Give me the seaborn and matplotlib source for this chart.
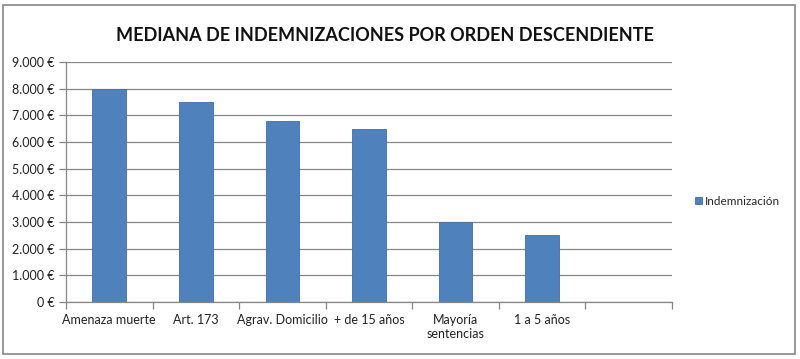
import matplotlib
matplotlib.use("Agg")
import matplotlib.pyplot as plt
import seaborn as sns
import pandas as pd
import numpy as np
from matplotlib.patches import Rectangle
from matplotlib.ticker import FuncFormatter, MultipleLocator

categories = ["Amenaza muerte", "Art. 173", "Agrav. Domicilio", "+ de 15 años",
              "Mayoría\nsentencias", "1 a 5 años"]
values = [8000, 7500, 6800, 6500, 3000, 2500]
series_name = "Indemnización"
title = "MEDIANA DE INDEMNIZACIONES POR ORDEN DESCENDIENTE"

sns.set_theme(style="white")
plt.rcParams["font.family"] = ["Lato", "DejaVu Sans"]

df = pd.DataFrame({"cat": categories, "val": values, "serie": series_name})

fig = plt.figure(figsize=(8, 3.59), dpi=100)
ax = fig.add_axes([0.0825, 0.159, 0.7575, 0.668])

sns.barplot(data=df, x="cat", y="val", hue="serie", order=categories,
            palette=["#4F81BD"], saturation=1, width=0.39, ax=ax,
            edgecolor="#3F6FA8", linewidth=0.6, zorder=3)

ax.set_xlim(-0.5, 6.5)
ax.set_ylim(0, 9000)
ax.yaxis.set_major_locator(MultipleLocator(1000))
ax.yaxis.set_major_formatter(FuncFormatter(lambda v, p: f"{int(v):,} €".replace(",", ".")))
ax.grid(axis="y", color="#868686", linewidth=0.9, zorder=0)
ax.set_axisbelow(True)
ax.set_xlabel("")
ax.set_ylabel("")

for s in ["top", "right"]:
    ax.spines[s].set_visible(False)
for s in ["left", "bottom"]:
    ax.spines[s].set_color("#868686")
    ax.spines[s].set_linewidth(0.9)

ax.tick_params(axis="y", which="major", direction="out", length=5, width=0.9,
               color="#868686", labelsize=9, pad=3, left=True)
ax.tick_params(axis="x", which="major", length=0, labelsize=9, pad=9)
ax.set_xticks(np.arange(-0.5, 7.0, 1.0), minor=True)
ax.tick_params(axis="x", which="minor", direction="out", length=5, width=0.9,
               color="#868686", bottom=True)
for lbl in ax.get_yticklabels() + ax.get_xticklabels():
    lbl.set_color("#222222")

ax.set_title(title, fontsize=13, fontweight="bold", pad=15, x=0.527, color="#111111")

leg = ax.legend(loc="center left", bbox_to_anchor=(1.02, 0.42), frameon=False,
                fontsize=8.5, handlelength=0.6, handleheight=0.6, handletextpad=0.3)

fig.patches.append(Rectangle((0.004, 0.015), 0.99, 0.97, transform=fig.transFigure,
                             fill=False, edgecolor="#868686", linewidth=1.2))

fig.savefig("out.png", dpi=100)
